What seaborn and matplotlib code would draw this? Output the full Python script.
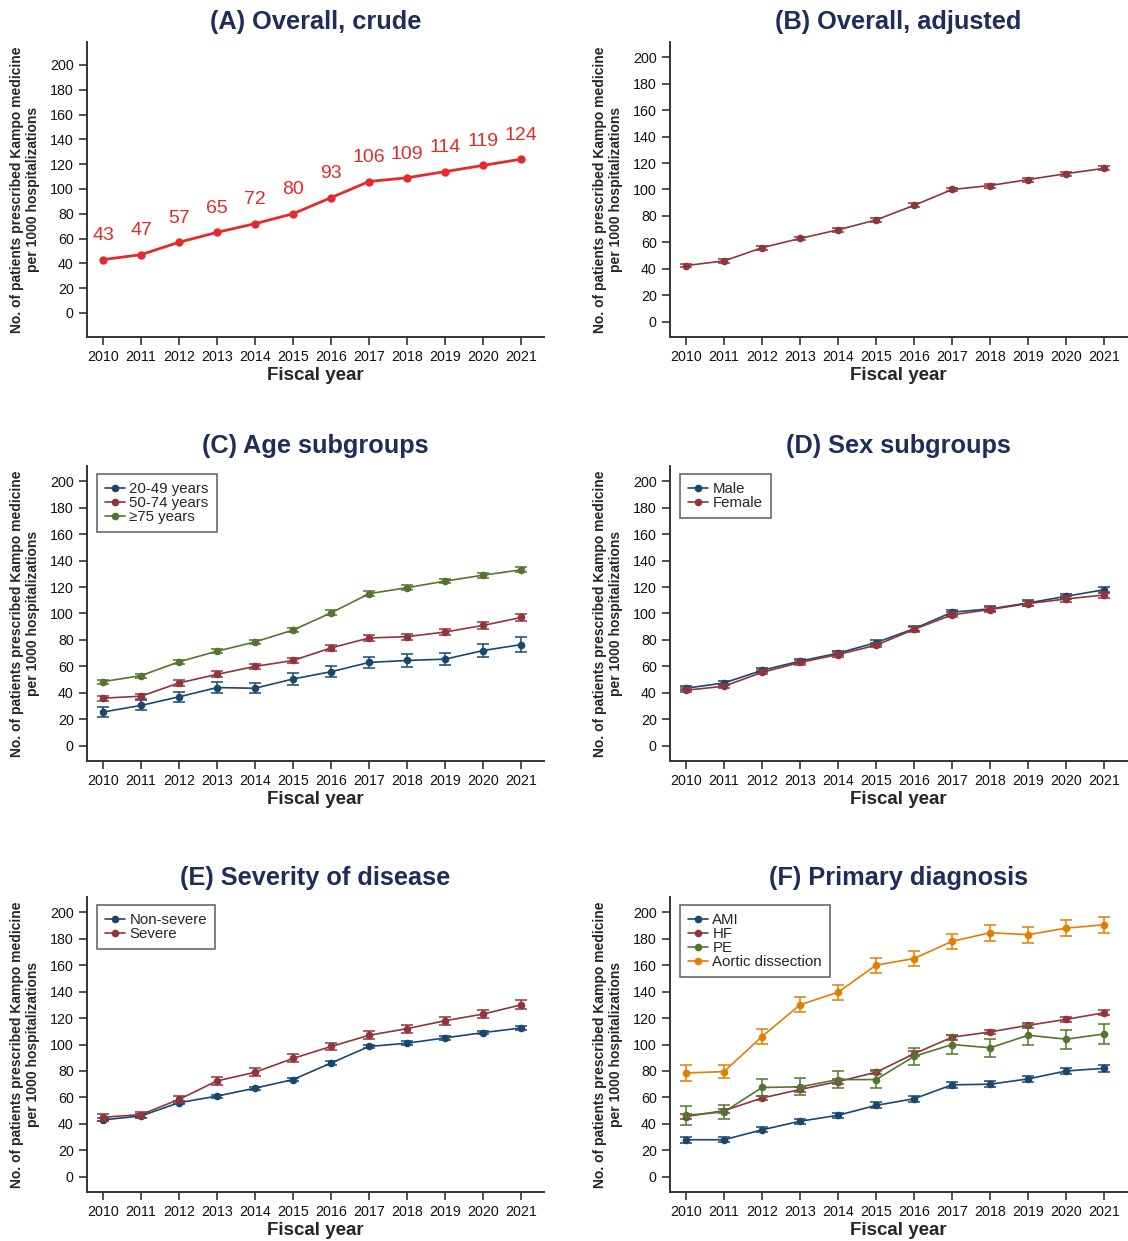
import numpy as np
import pandas as pd
import seaborn as sns
import matplotlib
matplotlib.use("Agg")
import matplotlib.pyplot as plt

# data
years = [2010, 2011, 2012, 2013, 2014, 2015, 2016, 2017, 2018, 2019, 2020, 2021]

crude = [43, 47, 57, 65, 72, 80, 93, 106, 109, 114, 119, 124]

adjusted = [42.5, 46, 56, 63, 69.5, 77, 88, 100, 103, 107.5, 112, 116]
adjusted_ci = [1.4, 1.4, 1.4, 1.4, 1.4, 1.4, 1.5, 1.5, 1.5, 1.5, 1.5, 1.6]

age_2049 = [25.5, 30.5, 37, 44, 43.5, 50.5, 56, 63, 64.5, 65.5, 72, 76.5]
age_2049_ci = [4.0, 3.8, 3.8, 4.2, 3.8, 4.2, 4.2, 4.4, 4.6, 4.8, 5.0, 5.4]
age_5074 = [36, 37.5, 47.5, 54, 60, 64.5, 74, 81.5, 82.5, 86, 91, 97]
age_5074_ci = [2.0, 2.0, 2.0, 2.2, 2.0, 2.0, 2.0, 2.2, 2.2, 2.4, 2.6, 2.8]
age_75 = [48.5, 53, 63.5, 71.5, 78.5, 87.5, 100.5, 115, 119.5, 124.5, 129, 133]
age_75_ci = [1.6, 1.6, 1.6, 1.6, 1.6, 1.6, 1.8, 1.8, 1.8, 1.8, 1.8, 1.8]

male = [43.5, 47.5, 57, 64, 70, 78, 88.5, 101, 103.5, 108, 113, 118]
male_ci = [1.6, 1.6, 1.6, 1.6, 1.6, 1.7, 1.8, 1.9, 1.9, 2.0, 2.1, 2.3]
female = [42, 45, 55.5, 63, 69, 76, 88, 99, 103, 107.5, 111, 114]
female_ci = [1.6, 1.6, 1.6, 1.6, 1.6, 1.7, 1.8, 1.9, 1.9, 2.0, 2.1, 2.2]

nonsevere = [43, 46, 56, 61, 67, 73.5, 86, 98.5, 101, 105, 109, 112.5]
nonsevere_ci = [1.2, 1.2, 1.2, 1.2, 1.2, 1.2, 1.3, 1.3, 1.3, 1.3, 1.3, 1.4]
severe = [45, 47, 58.5, 72.5, 79, 89.5, 98.5, 107, 112, 118, 123, 130]
severe_ci = [2.6, 2.2, 2.8, 3.0, 3.0, 3.0, 3.0, 3.0, 3.0, 3.0, 3.2, 3.5]

ami = [28, 28, 35.5, 42, 46.5, 54, 59, 69.5, 70, 74, 80, 82]
ami_ci = [2.2, 2.0, 2.0, 2.0, 2.0, 2.2, 2.2, 2.4, 2.4, 2.4, 2.6, 2.6]
hf = [45.5, 50, 59.5, 66, 72, 79, 93, 105.5, 109.5, 114.5, 119, 124]
hf_ci = [1.6, 1.6, 1.6, 1.6, 1.6, 1.6, 1.8, 1.8, 1.8, 1.8, 1.8, 1.9]
pe = [46.5, 49, 67.5, 68, 73.5, 73.5, 91, 100, 97.5, 107, 104, 108]
pe_ci = [7.2, 5.6, 6.5, 6.5, 6.6, 6.4, 6.7, 7.0, 7.0, 7.7, 7.2, 7.4]
aortic = [78.5, 79.5, 106, 130, 139.5, 160, 165, 178, 184.5, 183, 188, 190.5]
aortic_ci = [6.2, 5.2, 5.7, 5.7, 5.5, 5.7, 5.5, 5.6, 5.9, 6.0, 5.9, 6.0]

navy = "#1a476f"
maroon = "#90353b"
green = "#55752f"
orange = "#e37e00"
red = "#e52a2a"
title_color = "#1f2d5a"

ylabel = "No. of patients prescribed Kampo medicine\nper 1000 hospitalizations"

sns.set_theme(style="ticks")
plt.rcParams["font.family"] = ["Liberation Sans", "DejaVu Sans"]
plt.rcParams["axes.edgecolor"] = "#333333"
plt.rcParams["axes.linewidth"] = 1.4
plt.rcParams["xtick.major.width"] = 1.2
plt.rcParams["ytick.major.width"] = 1.2
plt.rcParams["xtick.major.size"] = 6
plt.rcParams["ytick.major.size"] = 6
plt.rcParams["xtick.color"] = "#333333"
plt.rcParams["ytick.color"] = "#333333"
plt.rcParams["xtick.labelcolor"] = "#111111"
plt.rcParams["ytick.labelcolor"] = "#111111"

W, H = 1128, 1241
fig = plt.figure(figsize=(W / 100, H / 100), dpi=100)


def make_ax(left, top):
    right = left + 457
    bottom = top + 295
    return fig.add_axes([left / W, 1 - bottom / H, (right - left) / W, (bottom - top) / H])


def style_ax(ax, title, ylim=(-11.5, 211.5)):
    ax.set_xlim(2009.58, 2021.6)
    ax.set_ylim(*ylim)
    ax.set_xticks(years)
    ax.set_xticklabels([str(y) for y in years], fontsize=10.3)
    ax.set_yticks(range(0, 201, 20))
    ax.tick_params(axis="y", labelsize=10.3)
    ax.set_xlabel("Fiscal year", fontsize=13.5, fontweight="bold", labelpad=2)
    ax.set_ylabel(ylabel, fontsize=10, fontweight="bold", labelpad=7)
    ax.set_title(title, fontsize=18.3, fontweight="bold", color=title_color, pad=9)
    sns.despine(ax=ax)


def draw_series(ax, vals, ci, color, label=None):
    df = pd.DataFrame({"year": years, "value": vals})
    sns.lineplot(data=df, x="year", y="value", ax=ax, color=color, lw=1.2,
                 marker="o", markersize=5.5, markeredgewidth=0, label=label)
    ax.errorbar(years, vals, yerr=ci, fmt="none", ecolor=color, elinewidth=1.1,
                capsize=4, capthick=1.1)


def add_legend(ax):
    leg = ax.legend(loc="upper left", bbox_to_anchor=(0.022, 0.973), fontsize=10.8,
                    frameon=True, fancybox=False, edgecolor="#333333",
                    handlelength=1.3, handletextpad=0.3, borderpad=0.55,
                    labelspacing=0.0, borderaxespad=0)
    leg.get_frame().set_linewidth(1.1)


# (A) crude
ax = make_ax(87, 42)
dfa = pd.DataFrame({"year": years, "value": crude})
sns.lineplot(data=dfa, x="year", y="value", ax=ax, color=red, lw=2,
             marker="o", markersize=6, markeredgewidth=0)
for x, v in zip(years, crude):
    ax.annotate(str(v), (x, v), xytext=(0, 11), textcoords="offset points",
                ha="center", va="bottom", fontsize=14, color=red)
style_ax(ax, "(A) Overall, crude", ylim=(-19.4, 218.5))

# (B) adjusted
ax = make_ax(670, 42)
draw_series(ax, adjusted, adjusted_ci, maroon)
style_ax(ax, "(B) Overall, adjusted")

# (C) age
ax = make_ax(87, 466)
draw_series(ax, age_2049, age_2049_ci, navy, "20-49 years")
draw_series(ax, age_5074, age_5074_ci, maroon, "50-74 years")
draw_series(ax, age_75, age_75_ci, green, "\u226575 years")
style_ax(ax, "(C) Age subgroups")
add_legend(ax)

# (D) sex
ax = make_ax(670, 466)
draw_series(ax, male, male_ci, navy, "Male")
draw_series(ax, female, female_ci, maroon, "Female")
style_ax(ax, "(D) Sex subgroups")
add_legend(ax)

# (E) severity
ax = make_ax(87, 897)
draw_series(ax, nonsevere, nonsevere_ci, navy, "Non-severe")
draw_series(ax, severe, severe_ci, maroon, "Severe")
style_ax(ax, "(E) Severity of disease")
add_legend(ax)

# (F) diagnosis
ax = make_ax(670, 897)
draw_series(ax, ami, ami_ci, navy, "AMI")
draw_series(ax, hf, hf_ci, maroon, "HF")
draw_series(ax, pe, pe_ci, green, "PE")
draw_series(ax, aortic, aortic_ci, orange, "Aortic dissection")
style_ax(ax, "(F) Primary diagnosis")
add_legend(ax)

fig.savefig("out.png", dpi=100)
